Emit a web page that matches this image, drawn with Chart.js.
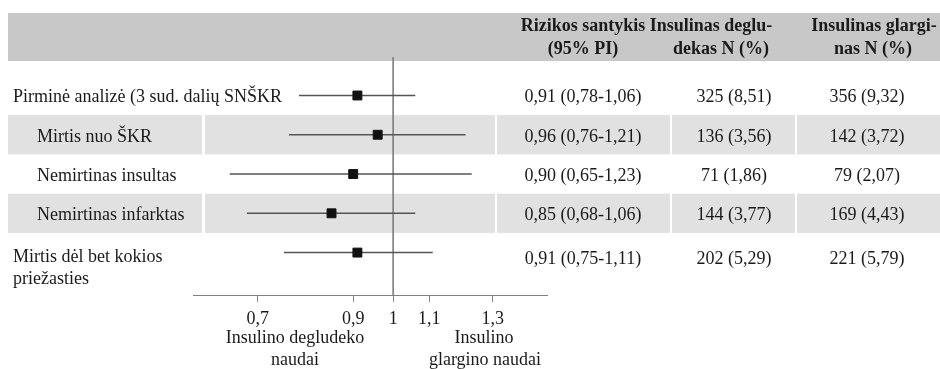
<!DOCTYPE html>
<html>
<head>
<meta charset="utf-8">
<script src="https://cdn.jsdelivr.net/npm/chart.js@4.4.0/dist/chart.umd.min.js"></script>
<style>
  html, body { margin: 0; padding: 0; background: #fff; }
  #wrap { width: 940px; height: 369px; position: relative; }
</style>
</head>
<body>
<div id="wrap"><canvas id="forest"></canvas></div>
<script>
// duomenys
const outcomes = ['Pirminė analizė (3 sud. dalių SNŠKR', 'Mirtis nuo ŠKR', 'Nemirtinas insultas', 'Nemirtinas infarktas', 'Mirtis dėl bet kokios\npriežasties'];
const indented = [false, true, true, true, false];
const hazardRatio = [0.91, 0.96, 0.90, 0.85, 0.91];
const ciLow = [0.78, 0.76, 0.65, 0.68, 0.75];
const ciHigh = [1.06, 1.21, 1.23, 1.06, 1.11];
const degludecN = [325, 136, 71, 144, 202];
const degludecPct = [8.51, 3.56, 1.86, 3.77, 5.29];
const glargineN = [356, 142, 79, 169, 221];
const glarginePct = [9.32, 3.72, 2.07, 4.43, 5.79];
const xTicks = [0.7, 0.9, 1, 1.1, 1.3];
const headers = [
    { lines: ['Rizikos santykis', '(95% PI)'], x: [583, 583] },
    { lines: ['Insulinas deglu-', 'dekas N (%)'], x: [711, 721] },
    { lines: ['Insulinas glargi-', 'nas N (%)'], x: [874, 873] }
];
const favourLeft = ['Insulino degludeko', 'naudai'];
const favourRight = ['Insulino', 'glargino naudai'];

const SERIF = '"Liberation Serif", "Times New Roman", serif';
const yMin = -0.98, yMax = 5.08;

function fmt(v, d = 2) {
    return v.toFixed(d).replace('.', ',');
}

const tablePlugin = {
    id: 'table',
    beforeDraw(chart) {
        const ctx = chart.ctx;
        const y = chart.scales.y;
        ctx.save();
        // antraštės juosta
        ctx.fillStyle = '#c8c8c8';
        ctx.fillRect(8, 13, 932, 48);
        // pilkos eilutės
        const segs = [[8, 202], [205, 495], [497, 670], [672, 795], [797, 940]];
        ctx.fillStyle = '#e1e1e1';
        outcomes.forEach((_, i) => {
            if (i % 2 !== 1) return;
            const top = y.getPixelForValue(i - 0.5);
            const bot = y.getPixelForValue(i + 0.5);
            segs.forEach(s => ctx.fillRect(s[0], top, s[1] - s[0], bot - top));
        });
        ctx.restore();
    },
    afterDraw(chart) {
        const ctx = chart.ctx;
        const y = chart.scales.y;
        ctx.save();
        ctx.fillStyle = '#1a1a1a';
        ctx.textBaseline = 'alphabetic';

        ctx.font = 'bold 18px ' + SERIF;
        ctx.textAlign = 'center';
        headers.forEach(h => {
            ctx.fillText(h.lines[0], h.x[0], 31);
            ctx.fillText(h.lines[1], h.x[1], 54);
        });

        ctx.font = '18px ' + SERIF;
        outcomes.forEach((label, i) => {
            const multi = label.includes('\n');
            const base = y.getPixelForValue(i) + (multi ? 11 : 7);
            ctx.textAlign = 'left';
            label.split('\n').forEach((ln, k) => {
                ctx.fillText(ln, indented[i] ? 37 : 13, base - (multi ? 2 : 0) + k * 22);
            });
            ctx.textAlign = 'center';
            ctx.fillText(fmt(hazardRatio[i]) + ' (' + fmt(ciLow[i]) + '-' + fmt(ciHigh[i]) + ')', 583, base);
            ctx.fillText(degludecN[i] + ' (' + fmt(degludecPct[i]) + ')', 734, base);
            ctx.fillText(glargineN[i] + ' (' + fmt(glarginePct[i]) + ')', 867, base);
        });

        ctx.textAlign = 'center';
        ctx.fillText(favourLeft[0], 295, 343);
        ctx.fillText(favourLeft[1], 295, 365);
        ctx.fillText(favourRight[0], 484, 343);
        ctx.fillText(favourRight[1], 485, 365);
        ctx.restore();
    }
};

const ciSets = outcomes.map((_, i) => ({
    data: [{ x: ciLow[i], y: i }, { x: ciHigh[i], y: i }],
    showLine: true,
    borderColor: '#555',
    borderWidth: 1.5,
    pointRadius: 0,
    order: 2
}));

const ctx = document.getElementById('forest').getContext('2d');
new Chart(ctx, {
    type: 'scatter',
    data: {
        datasets: [
            {
                data: [{ x: 1, y: yMin }, { x: 1, y: yMax }],
                showLine: true,
                borderColor: '#808080',
                borderWidth: 1,
                pointRadius: 0,
                order: 3
            },
            ...ciSets,
            {
                data: hazardRatio.map((v, i) => ({ x: v, y: i })),
                pointStyle: 'rect',
                pointRadius: 6.3,
                borderWidth: 1,
                backgroundColor: '#111',
                borderColor: '#111',
                order: 0
            }
        ]
    },
    options: {
        responsive: true,
        maintainAspectRatio: false,
        animation: false,
        events: [],
        layout: {
            padding: { left: 193, right: 393, top: 57, bottom: 0 }
        },
        plugins: {
            legend: { display: false },
            tooltip: { enabled: false }
        },
        scales: {
            x: {
                type: 'logarithmic',
                min: 0.59,
                max: 1.5,
                afterBuildTicks: (scale) => {
                    scale.ticks = xTicks.map(v => ({ value: v }));
                },
                afterFit: (scale) => {
                    scale.height = 74;
                },
                border: { color: '#808080', width: 1 },
                grid: {
                    drawOnChartArea: false,
                    tickLength: 7,
                    color: '#808080'
                },
                ticks: {
                    autoSkip: false,
                    maxRotation: 0,
                    padding: 6,
                    color: '#1a1a1a',
                    font: { family: SERIF, size: 18 },
                    callback: (v) => fmt(v, v === 1 ? 0 : 1)
                }
            },
            y: {
                type: 'linear',
                reverse: true,
                min: yMin,
                max: yMax,
                display: false
            }
        }
    },
    plugins: [tablePlugin]
});
</script>
</body>
</html>
